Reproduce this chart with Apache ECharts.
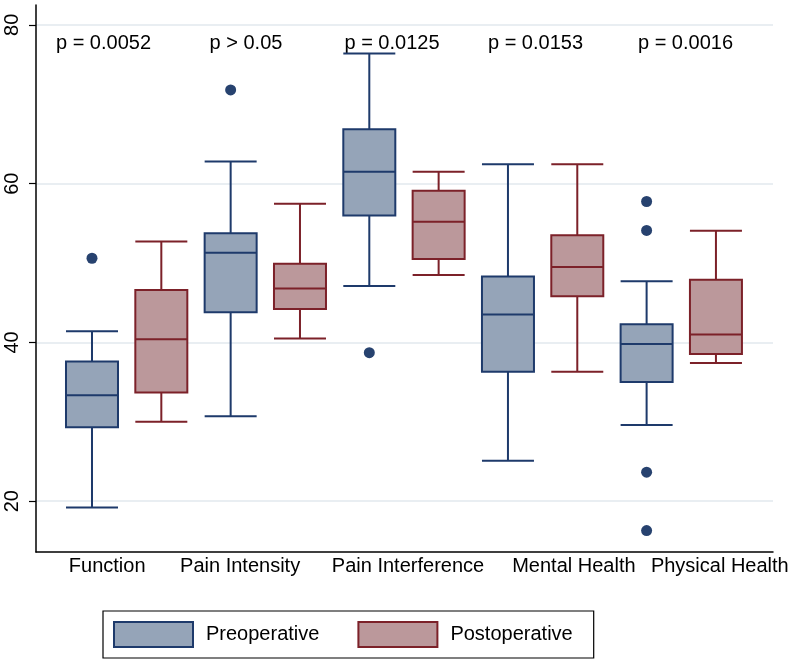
<!DOCTYPE html>
<html><head><meta charset="utf-8">
<script src="https://cdn.jsdelivr.net/npm/echarts@6/dist/echarts.min.js"></script>
<style>html,body{margin:0;padding:0;background:#fff}#c{width:794px;height:660px}</style>
</head><body><div id="c"></div>
<script>
const categories = ['Function', 'Pain Intensity', 'Pain Interference', 'Mental Health', 'Physical Health'];
const pValues = ['p = 0.0052', 'p > 0.05', 'p = 0.0125', 'p = 0.0153', 'p = 0.0016'];
// each row: [lower whisker, Q1, median, Q3, upper whisker]
const preop = [
  [19.2, 29.3, 33.35, 37.6, 41.4],
  [30.7, 43.8, 51.3, 53.75, 62.8],
  [47.1, 56.0, 61.5, 66.85, 76.4],
  [25.1, 36.3, 43.5, 48.3, 62.45],
  [29.6, 35.0, 39.8, 42.3, 47.7]
];
const postop = [
  [30.0, 33.7, 40.4, 46.6, 52.7],
  [40.5, 44.2, 46.8, 49.9, 57.45],
  [48.5, 50.5, 55.2, 59.1, 61.5],
  [36.3, 45.8, 49.5, 53.5, 62.45],
  [37.4, 38.55, 41.0, 47.9, 54.05]
];
// outliers: [category index, value]
const preOutliers = [[0, 50.6], [1, 71.8], [2, 38.7], [4, 57.75], [4, 54.1], [4, 23.65], [4, 16.3]];
const yTicks = [20, 40, 60, 80];

const PRE_FILL = '#95a4b8', PRE_LINE = '#1e3a6b';
const POST_FILL = '#bb989b', POST_LINE = '#7c2129';
const DOT = '#27426f';
const FONT = '"Liberation Sans", Arial, Helvetica, sans-serif';

// box slots: pre at 2*i, post at 2*i+1
const slotMin = -0.8077, slotMax = 9.823;
const preData = preop.map((r, i) => [2 * i].concat(r));
const postData = postop.map((r, i) => [2 * i + 1].concat(r));
const preOut = preOutliers.map(o => [2 * o[0], o[1]]);

const labelShift = [[0, 5, 0, 0], [0, 34, 0, 0], [0, 0, 0, 7], [0, 0, 0, 44], [0, 0, 0, 41]];
const rich = {};
labelShift.forEach((p, i) => { rich['c' + i] = { fontSize: 20, fontFamily: FONT, color: '#000', padding: p }; });

const pX = [103.5, 246, 392, 535.5, 685.5];

const chart = echarts.init(document.getElementById('c'), null, { renderer: 'canvas' });
chart.setOption({
  animation: false,
  backgroundColor: '#fff',
  grid: { left: 36, right: 21, top: 5, bottom: 108, containLabel: false },
  xAxis: [
    {
      type: 'category', data: categories, boundaryGap: true,
      axisLine: { show: true, onZero: false, lineStyle: { color: '#000', width: 1.5 } },
      axisTick: { show: false },
      splitLine: { show: false },
      axisLabel: {
        margin: 4, interval: 0,
        formatter: (v, i) => '{c' + i + '|' + v + '}',
        rich: rich
      }
    },
    { type: 'value', min: slotMin, max: slotMax, show: false },
    { type: 'value', min: slotMin, max: slotMax, show: false }
  ],
  yAxis: {
    type: 'value', min: 13.6, max: 82.5,
    axisLine: { show: true, onZero: false, lineStyle: { color: '#000', width: 1.5 } },
    axisTick: { show: true, length: 7, customValues: yTicks, lineStyle: { color: '#000', width: 1.2 } },
    axisLabel: { customValues: yTicks, rotate: 90, fontSize: 20, fontFamily: FONT, color: '#000', margin: 14 },
    splitLine: { show: true, lineStyle: { color: '#e2e9ee', width: 1.5 } }
  },
  legend: {
    left: 103, top: 611,
    data: [
      { name: 'Preoperative', icon: 'rect', itemStyle: { color: PRE_FILL, borderColor: PRE_LINE, borderWidth: 2 } },
      { name: 'Postoperative', icon: 'rect', itemStyle: { color: POST_FILL, borderColor: POST_LINE, borderWidth: 2 } }
    ],
    itemWidth: 79, itemHeight: 25, itemGap: 38,
    padding: [10, 21, 10, 10],
    borderColor: '#000', borderWidth: 1.2,
    selectedMode: false,
    textStyle: { fontSize: 20, fontFamily: FONT, color: '#000', padding: [0, 0, 0, 8] }
  },
  series: [
    {
      name: 'Preoperative', type: 'boxplot', xAxisIndex: 1,
      boxWidth: [52, 52], data: preData,
      itemStyle: { color: PRE_FILL, borderColor: PRE_LINE, borderWidth: 2 },
      emphasis: { disabled: true }
    },
    {
      name: 'Postoperative', type: 'boxplot', xAxisIndex: 2,
      boxWidth: [52, 52], data: postData,
      itemStyle: { color: POST_FILL, borderColor: POST_LINE, borderWidth: 2 },
      emphasis: { disabled: true }
    },
    {
      name: 'Preoperative outliers', type: 'scatter', xAxisIndex: 1,
      symbol: 'circle', symbolSize: 11, data: preOut,
      itemStyle: { color: DOT, opacity: 1 }, emphasis: { disabled: true }
    }
  ],
  graphic: pValues.map((t, i) => ({
    type: 'text', x: pX[i], y: 43,
    style: { text: t, fontSize: 20, fontFamily: FONT, fill: '#000', align: 'center', verticalAlign: 'middle' }
  }))
});
</script>
</body></html>
